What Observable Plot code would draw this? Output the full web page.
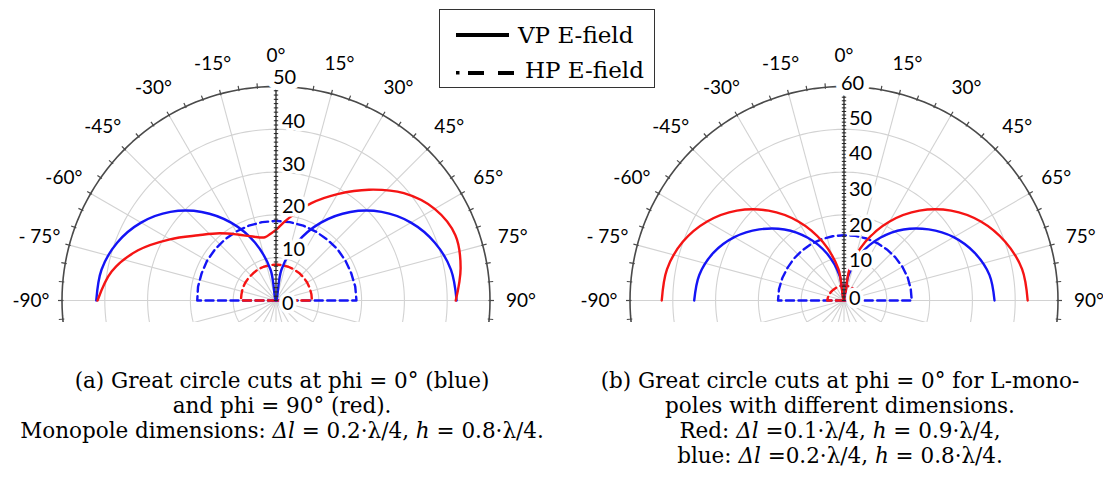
<!DOCTYPE html>
<html><head><meta charset="utf-8">
<script src="https://cdn.jsdelivr.net/npm/d3@7"></script>
<script src="https://cdn.jsdelivr.net/npm/@observablehq/plot@0.6"></script>
<style>
body{margin:0;background:#fff;width:1103px;height:497px;position:relative;overflow:hidden;}
.panel{position:absolute;top:0;overflow:hidden;height:322px;}
.cap{position:absolute;font-family:"DejaVu Serif",serif;font-size:21.5px;line-height:25px;text-align:center;color:#000;white-space:nowrap;}
#legend{position:absolute;left:439px;top:9px;width:214px;height:77px;border:1.5px solid #333;background:#fff;}
</style></head><body>
<div id="a" class="panel" style="left:0;width:551px"></div>
<div id="b" class="panel" style="left:551px;width:552px"></div>
<div id="legend"><svg width="214" height="77">
<line x1="16" x2="69" y1="25" y2="25" stroke="#000" stroke-width="4"/>
<text x="78" y="25" dominant-baseline="central" font-family="DejaVu Serif" font-size="23">VP E-field</text>
<rect x="16" y="61" width="3.5" height="3.5" fill="#000"/>
<line x1="28" x2="44" y1="63" y2="63" stroke="#000" stroke-width="4"/>
<line x1="58" x2="74" y1="63" y2="63" stroke="#000" stroke-width="4"/>
<text x="85" y="60" dominant-baseline="central" font-family="DejaVu Serif" font-size="23">HP E-field</text>
</svg></div>
<div class="cap" style="left:0;width:564px;top:368px">(a) Great circle cuts at phi = 0° (blue)<br>and phi = 90° (red).<br>Monopole dimensions: <i>Δl</i> = 0.2·λ/4, <i>h</i> = 0.8·λ/4.</div>
<div class="cap" style="left:580px;width:520px;top:368px">(b) Great circle cuts at phi = 0° for L-mono-<br>poles with different dimensions.<br>Red: <i>Δl</i> =0.1·λ/4, <i>h</i> = 0.9·λ/4,<br>blue: <i>Δl</i> =0.2·λ/4, <i>h</i> = 0.8·λ/4.</div>
<script>
// ---- shared angle grid and tick labels ----
const angles = [-90,-80,-70,-60,-50,-40,-30,-20,-10,0,10,20,30,40,50,60,70,80,90];
// HP (dashed) curves are closed to the origin along the baseline
const anglesHP = [-90,-90,-80,-70,-60,-50,-40,-30,-20,-10,0,10,20,30,40,50,60,70,80,90,90];
const angleTicks = [-90,-75,-60,-45,-30,-15,0,15,30,45,60,75,90];
const angleTickLabels = ["-90°","- 75°","-60°","-45°","-30°","-15°","0°","15°","30°","45°","65°","75°","90°"];

// ---- panel (a) ----
const radialTicksA = [0,10,20,30,40,50];
const aBlueVP = [42,41.4,39.5,36.4,32.2,27.0,21.0,14.4,7.3,0,7.3,14.4,21.0,27.0,32.2,36.4,39.5,41.5,42.2];
const aBlueHP = [0,18.4,18.5,18.5,18.6,18.6,18.6,18.6,18.6,18.6,18.6,18.6,18.6,18.6,18.6,18.7,18.7,18.7,18.8,18.8,0];
const aRedHP  = [0,8.2,8.2,8.3,8.3,8.3,8.3,8.4,8.4,8.4,8.4,8.4,8.4,8.4,8.4,8.4,8.4,8.4,8.4,8.4,0];
const aRedVPAngles = [-90,-80,-70,-60,-50,-40,-30,-20,-10,-5,0,5,10,20,30,40,50,60,70,80,90];
const aRedVP = [41.7,39.0,34.3,28.6,23.7,20.5,17.8,15.9,15.0,15.6,16.5,18.1,19.9,24.2,28.7,33.8,39.0,42.8,44.6,43.8,42.0];

// ---- panel (b) ----
const radialTicksB = [0,10,20,30,40,50,60];
const bBlueVP = [42,41.2,39.0,35.5,31.0,26.0,20.3,14.0,7.0,0,7.0,14.0,20.3,26.0,31.0,35.5,39.0,41.4,42.2];
const bRedVP  = [51.1,50.4,48.1,44.3,39.2,32.9,25.6,17.5,8.9,0,8.9,17.5,25.6,32.9,39.2,44.3,48.1,50.7,51.5];
const bBlueHP = [0,18.5,18.5,18.4,18.3,18.3,18.3,18.3,18.3,18.3,18.3,18.4,18.5,18.6,18.7,18.8,18.9,19.0,19.0,19.0,0];
const bRedHP  = [0,4.7,4.6,4.5,4.4,4.3,4.2,4.2,4.2,4.2,4.2,4.2,4.2,4.2,4.2,4.2,4.2,4.2,4.2,4.2,0];

const BLUE = "#1414f5", RED = "#f51414";

function panel(el, o) {
  const R = 214, W = o.width, H = 322, cx = o.cx, cy = 300, M = o.max;
  const k = M / R;
  const rad = a => a * Math.PI / 180;
  const px = (r, a) => r * Math.sin(rad(a));
  const py = (r, a) => r * Math.cos(rad(a));
  const full = d3.range(0, 361, 2);
  const rings = d3.range(1, 5).map(i => M * i / 5);
  const ringPts = rings.flatMap(r => full.map(a => ({r, a})));
  const spokes = d3.range(0, 360, 15);
  const outerTicks = d3.range(0, 360, 5);
  const minor = d3.range(0, M + 0.5, 1);
  const lineMarks = o.series.map(s => {
    const rows = s.angles.map((a, i) => ({a, r: s.values[i]}));
    return Plot.line(rows, {x: d => px(d.r, d.a), y: d => py(d.r, d.a), stroke: s.color, strokeWidth: 2.4,
      strokeDasharray: s.dash ? "8,4.5" : null, curve: s.dash ? "linear" : "catmull-rom"});
  });
  const labR = M + 31 * k;
  const angRows = angleTicks.map((a, i) => ({a, t: angleTickLabels[i]}));
  const top = o.ticks[o.ticks.length - 1];
  const mid = o.ticks.filter(v => v > 0 && v < top);
  const plot = Plot.plot({
    width: W, height: H, margin: 0,
    x: {domain: [-cx * k, (W - cx) * k], range: [0, W], axis: null},
    y: {domain: [-(H - cy) * k, cy * k], range: [H, 0], axis: null},
    style: {fontFamily: "Lato, sans-serif", background: "transparent"},
    marks: [
      Plot.line(ringPts, {x: d => px(d.r, d.a), y: d => py(d.r, d.a), z: "r", stroke: "#d2d2d2", strokeWidth: 1.1}),
      Plot.link(spokes, {x1: () => 0, y1: () => 0, x2: a => px(M, a), y2: a => py(M, a), stroke: "#d2d2d2", strokeWidth: 1.1}),
      Plot.line(full, {x: a => px(M, a), y: a => py(M, a), stroke: "#4a4a4a", strokeWidth: 1.6}),
      Plot.link(outerTicks, {x1: a => px(M - 1.5 * k, a), y1: a => py(M - 1.5 * k, a), x2: a => px(M + 4 * k, a), y2: a => py(M + 4 * k, a), stroke: "#4a4a4a", strokeWidth: 1.2}),
      ...lineMarks,
      Plot.link([0], {x1: () => 0, y1: () => 0, x2: () => 0, y2: () => M, stroke: "#333", strokeWidth: 1.3}),
      Plot.link(minor, {x1: () => -2.2 * k, x2: () => 2.2 * k, y1: v => v, y2: v => v, stroke: "#222", strokeWidth: 1}),
      Plot.text(mid, {x: () => 0, y: v => v, text: v => String(v), dx: o.dx, dy: o.dy, textAnchor: "start", fontSize: 20, fill: "#000", stroke: "#fff", strokeWidth: 7, paintOrder: "stroke"}),
      Plot.text([0], {x: () => 0, y: v => v, text: v => String(v), dx: o.dx, dy: o.dy0, textAnchor: "start", fontSize: 20, fill: "#000", stroke: "#fff", strokeWidth: 7, paintOrder: "stroke"}),
      Plot.text([top], {x: () => 0, y: v => v, text: v => String(v), dx: -3, dy: o.dyTop, textAnchor: "start", fontSize: 20, fill: "#000", stroke: "#fff", strokeWidth: 12, paintOrder: "stroke"}),
      Plot.text(angRows, {x: d => px(labR, d.a), y: d => py(labR, d.a), text: "t", textAnchor: "middle", fontSize: 19, fill: "#000"})
    ]
  });
  document.getElementById(el).appendChild(plot);
}

panel("a", {width: 551, cx: 275.5, max: 50, ticks: radialTicksA, dx: 6, dy: -8, dy0: 3, dyTop: -9,
  series: [
    {angles: anglesHP, values: aBlueHP, color: BLUE, dash: true},
    {angles: anglesHP, values: aRedHP, color: RED, dash: true},
    {angles, values: aBlueVP, color: BLUE, dash: false},
    {angles: aRedVPAngles, values: aRedVP, color: RED, dash: false}
  ]});
panel("b", {width: 552, cx: 292.5, max: 60, ticks: radialTicksB, dx: 5, dy: -4, dy0: -2, dyTop: -3,
  series: [
    {angles: anglesHP, values: bBlueHP, color: BLUE, dash: true},
    {angles: anglesHP, values: bRedHP, color: RED, dash: true},
    {angles, values: bBlueVP, color: BLUE, dash: false},
    {angles, values: bRedVP, color: RED, dash: false}
  ]});
</script>
</body></html>
